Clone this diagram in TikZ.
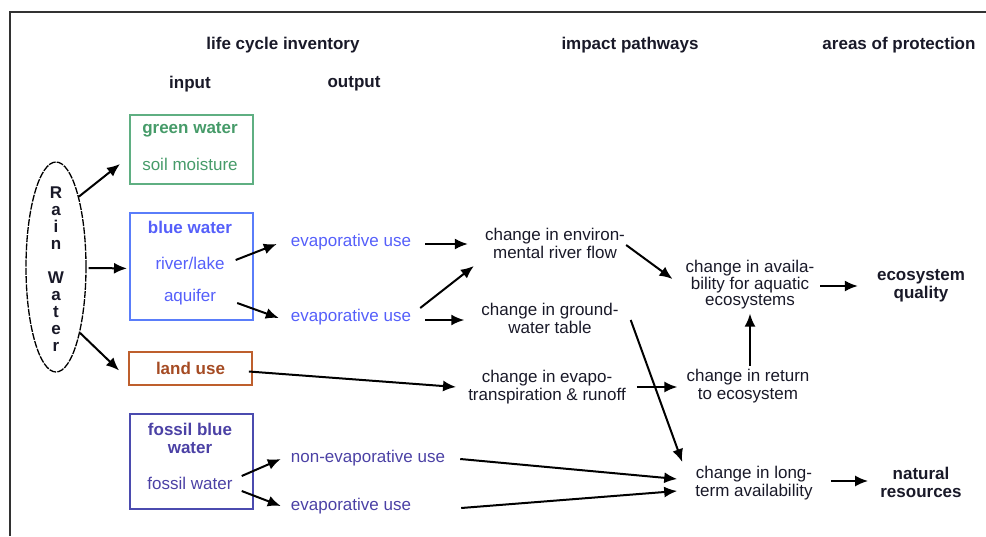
\documentclass[tikz,border=0pt]{standalone}
\usepackage{fontspec}
\setmainfont{Liberation Sans}
\usetikzlibrary{arrows.meta,calc,shapes.geometric}
\definecolor{gw}{RGB}{70,155,105}
\definecolor{gwline}{RGB}{95,175,130}
\definecolor{bw}{RGB}{85,95,250}
\definecolor{bwline}{RGB}{90,125,250}
\definecolor{lu}{RGB}{165,75,35}
\definecolor{luline}{RGB}{190,95,45}
\definecolor{fw}{RGB}{75,65,165}
\definecolor{fwline}{RGB}{75,75,175}
\definecolor{ink}{RGB}{25,25,40}
\definecolor{framecol}{RGB}{50,50,50}

\begin{document}
\begin{tikzpicture}[x=1pt,y=-1pt,
  every node/.style={font=\fontsize{17}{18}\selectfont, inner sep=0pt, align=center, text=ink},
  hdr/.style={font=\fontsize{17}{18}\selectfont\bfseries},
  btxt/.style={font=\fontsize{17}{18}\selectfont\bfseries},
  box/.style={draw, line width=1.8pt, minimum width=123pt, anchor=north west},
  arr/.style={-{Latex[length=13pt,width=11pt]}, line width=2pt, black},
  frame/.style={line width=1.8pt, framecol},
]
\useasboundingbox (0,0) rectangle (986,536);

% outer frame (top and left edges)
\draw[frame] (986,12) -- (10,12) -- (10,536);

% column headings
\node[hdr] (lci)  at (283,45) {life cycle inventory};
\node[hdr] (ip)   at (630,45) {impact pathways};
\node[hdr] (aop)  at (899,45) {areas of protection};
\node[hdr] (inp)  at (190,84) {input};
\node[hdr] (outp) at (354,84) {output};

% rain water source
\node[ellipse, draw=black, line width=1.3pt, dash pattern=on 7pt off 1.2pt,
      minimum width=60pt, minimum height=210pt] (rain) at (56,267) {};
\node[font=\fontsize{17}{17}\selectfont\bfseries] (rainlbl) at (56,269)
  {R\\a\\i\\n\\[17pt]W\\a\\t\\e\\r};

% inventory boxes
\node[box, draw=gwline, minimum height=69pt] (green) at (129,114) {};
\node[btxt, text=gw] (greenw) at (190,130) {green water};
\node[text=gw] (soil) at (190,164) {soil moisture};

\node[box, draw=bwline, minimum height=107pt] (blue) at (129,212) {};
\node[btxt, text=bw] (bluew) at (190,227) {blue water};
\node[text=bw] (river) at (190,263) {river/lake};
\node[text=bw] (aquifer) at (190,297) {aquifer};

\node[box, draw=luline, minimum height=33pt, anchor=center, btxt, text=lu] (land) at (190.5,368.5) {land use};

\node[box, draw=fwline, minimum height=95pt] (fossil) at (129,413) {};
\node[btxt, text=fw] (fossilw) at (190,438) {fossil blue\\water};
\node[text=fw] (fwater) at (190,483) {fossil water};

% outputs
\node[text=bw] (evap1) at (351,242) {evaporative use};
\node[text=bw] (evap2) at (351,317) {evaporative use};
\node[text=fw] (nonevap) at (368,458) {non-evaporative use};
\node[text=fw] (evap3) at (351,506) {evaporative use};

% impact pathways
\node (envflow)  at (555,243) {change in environ-\\mental river flow};
\node (gwtable)  at (550,318) {change in ground-\\water table};
\node (evapo)    at (547,387) {change in evapo-\\transpiration \& runoff};
\node[font=\fontsize{17}{16.5}\selectfont] (avail) at (750,285) {change in availa-\\bility for aquatic\\ecosystems};
\node (return)   at (748,386) {change in return\\to ecosystem};
\node (longterm) at (754,483) {change in long-\\term availability};

% areas of protection
\node[btxt] (ecoq)   at (921,286) {ecosystem\\quality};
\node[btxt] (natres) at (921,482) {natural\\resources};

% connectors
\draw[arr] (rain.72) -- ($(green.west |- soil)+(-9,0)$);
\draw[arr] ($(rain.east)+(2,1)$) -- ($(blue.west)+(-2,2)$);
\draw[arr] (rain.-70) -- ($(land.west)+(-9,2)$);

\draw[arr] ($(river.east)+(11,-3)$) -- ($(evap1.west)+(-14,2)$);
\draw[arr] ($(aquifer.east)+(21,6)$) -- ($(evap2.west)+(-12,1)$);
\draw[arr] ($(fwater.east)+(9,-7)$) -- ($(nonevap.west)+(-10,1)$);
\draw[arr] ($(fwater.east)+(9,8)$) -- ($(evap3.west)+(-10,0)$);

\draw[arr] ($(evap1.east)+(14,2)$) -- ($(envflow.west)+(-17,1)$);
\draw[arr] ($(evap2.east)+(9,-9)$) -- ($(envflow.west)+(-11,23)$);
\draw[arr] ($(evap2.east)+(14,3)$) -- ($(gwtable.west)+(-17,2)$);
\draw[arr] ($(land.east)+(-4,3)$) -- ($(evapo.west)+(-12,0)$);
\draw[arr] ($(nonevap.east)+(15,1)$) -- ($(longterm.west)+(-18,-4)$);
\draw[arr] ($(evap3.east)+(50,2)$) -- ($(longterm.west)+(-18,8)$);

\draw[arr] ($(envflow.east)+(1,2)$) -- ($(avail.west)+(-13,-6)$);
\draw[arr] ($(gwtable.east)+(12,2)$) -- ($(longterm.west)+(-13,-21)$);
\draw[arr] ($(evapo.east)+(11,0)$) -- ($(return.west)+(-9,1)$);
\draw[arr] ($(avail.south |- return.north)+(0,-3)$) -- ($(avail.south)+(0,4)$);

\draw[arr] ($(avail.east)+(6,1)$) -- ($(ecoq.west)+(-19,0)$);
\draw[arr] ($(longterm.east)+(18,-2)$) -- ($(natres.west)+(-12,-1)$);
\end{tikzpicture}
\end{document}
